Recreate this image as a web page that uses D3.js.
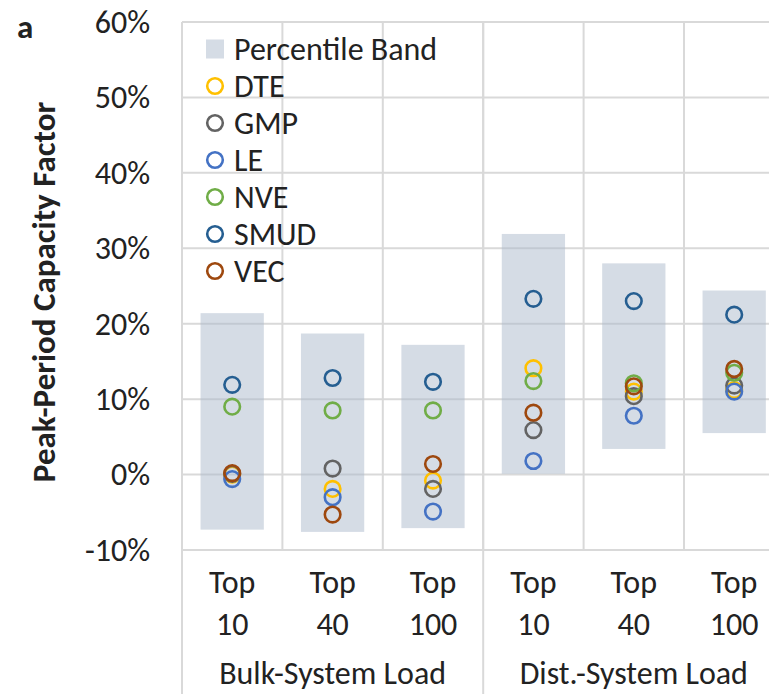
<!DOCTYPE html>
<html>
<head>
<meta charset="utf-8">
<script src="https://cdn.jsdelivr.net/npm/d3@7"></script>
<style>
  html, body { margin: 0; padding: 0; background: #fff; }
  svg { display: block; }
  text { font-family: Carlito, Calibri, Lato, sans-serif; fill: #222; }
</style>
</head>
<body>
<svg id="chart" width="769" height="694"></svg>
<script>
// Category axis: two levels (load type, then top-N hours)
const categories = ["Bulk-Top10", "Bulk-Top40", "Bulk-Top100", "Dist-Top10", "Dist-Top40", "Dist-Top100"];
const catLine1 = ["Top", "Top", "Top", "Top", "Top", "Top"];
const catLine2 = ["10", "40", "100", "10", "40", "100"];
const groups = ["Bulk-System Load", "Dist.-System Load"];
const groupSizes = [3, 3];

// Percentile band (low / high), in percent
const bandLow = [-7.3, -7.6, -7.1, 0.1, 3.4, 5.5];
const bandHigh = [21.4, 18.7, 17.2, 31.9, 28.0, 24.4];

// Utility series, in percent
const seriesNames = ["DTE", "GMP", "LE", "NVE", "SMUD", "VEC"];
const seriesColors = ["#FFC000", "#636363", "#4472C4", "#70AD47", "#255E91", "#9E480E"];
const DTE = [0.0, -1.9, -0.8, 14.1, 11.0, 11.2];
const GMP = [0.1, 0.8, -1.9, 5.9, 10.4, 11.8];
const LE = [-0.6, -3.0, -4.9, 1.8, 7.8, 11.0];
const NVE = [9.0, 8.5, 8.5, 12.4, 12.1, 13.5];
const SMUD = [11.9, 12.8, 12.3, 23.3, 23.0, 21.2];
const VEC = [0.2, -5.3, 1.4, 8.2, 11.7, 14.0];
const seriesValues = [DTE, GMP, LE, NVE, SMUD, VEC];

const yTicks = [-10, 0, 10, 20, 30, 40, 50, 60];

const svg = d3.select("#chart");
const W = 769, H = 694;
const plot = { left: 182, top: 22, bottom: 550, catWidth: 100.4 };
plot.right = plot.left + plot.catWidth * categories.length;

const x = d3.scaleBand().domain(categories).range([plot.left, plot.right]).padding(0);
const y = d3.scaleLinear().domain([-10, 60]).range([plot.bottom, plot.top]);

const gridColor = "#d9d9d9";
const fontSize = 32;

svg.append("rect").attr("width", W).attr("height", H).attr("fill", "#fff");

// Horizontal gridlines
svg.append("g").selectAll("line").data(yTicks).join("line")
  .attr("x1", plot.left).attr("x2", plot.right)
  .attr("y1", d => y(d)).attr("y2", d => y(d))
  .attr("stroke", gridColor).attr("stroke-width", 2);

// Vertical gridlines between categories
svg.append("g").selectAll("line").data(categories.slice(1)).join("line")
  .attr("x1", d => x(d)).attr("x2", d => x(d))
  .attr("y1", plot.top).attr("y2", plot.bottom)
  .attr("stroke", gridColor).attr("stroke-width", 2);

// Axis line and group separators running down through the labels
const groupEdges = [0];
groupSizes.forEach((n, i) => groupEdges.push(groupEdges[i] + n));
svg.append("g").selectAll("line").data(groupEdges.slice(0, -1)).join("line")
  .attr("x1", d => plot.left + d * x.bandwidth()).attr("x2", d => plot.left + d * x.bandwidth())
  .attr("y1", plot.top).attr("y2", H)
  .attr("stroke", gridColor).attr("stroke-width", 2);

// Percentile bands
const bandFrac = 0.63;
svg.append("g").selectAll("rect").data(categories).join("rect")
  .attr("x", d => x(d) + x.bandwidth() * (1 - bandFrac) / 2)
  .attr("width", x.bandwidth() * bandFrac)
  .attr("y", (d, i) => y(bandHigh[i]))
  .attr("height", (d, i) => y(bandLow[i]) - y(bandHigh[i]))
  .attr("fill", "rgb(172,186,204)").attr("fill-opacity", 0.5);

// Utility markers, drawn in series order
seriesNames.forEach((name, s) => {
  svg.append("g").selectAll("circle").data(seriesValues[s]).join("circle")
    .attr("cx", (d, i) => x(categories[i]) + x.bandwidth() / 2)
    .attr("cy", d => y(d))
    .attr("r", 7.8)
    .attr("fill", "none")
    .attr("stroke", seriesColors[s])
    .attr("stroke-width", 2.6);
});

// Y axis tick labels
svg.append("g").selectAll("text").data(yTicks).join("text")
  .attr("x", 150).attr("y", d => y(d)).attr("dy", "0.34em")
  .attr("text-anchor", "end").attr("font-size", fontSize)
  .text(d => d + "%");

// Y axis title
svg.append("text")
  .attr("transform", "translate(55,292) rotate(-90)")
  .attr("text-anchor", "middle").attr("font-size", 33).attr("font-weight", "bold")
  .attr("fill", "#000")
  .text("Peak-Period Capacity Factor");

// Panel letter
svg.append("text").attr("x", 17).attr("y", 38)
  .attr("font-size", 33).attr("font-weight", "bold").attr("fill", "#000")
  .text("a");

// Category labels
const catG = svg.append("g");
catG.selectAll("text.l1").data(categories).join("text").attr("class", "l1")
  .attr("x", d => x(d) + x.bandwidth() / 2).attr("y", 593)
  .attr("text-anchor", "middle").attr("font-size", fontSize)
  .text((d, i) => catLine1[i]);
catG.selectAll("text.l2").data(categories).join("text").attr("class", "l2")
  .attr("x", d => x(d) + x.bandwidth() / 2).attr("y", 635)
  .attr("text-anchor", "middle").attr("font-size", fontSize)
  .text((d, i) => catLine2[i]);
catG.selectAll("text.grp").data(groups).join("text").attr("class", "grp")
  .attr("x", (d, i) => plot.left + (groupEdges[i] + groupSizes[i] / 2) * x.bandwidth())
  .attr("y", 684)
  .attr("text-anchor", "middle").attr("font-size", fontSize)
  .text(d => d);

// Legend
const legend = svg.append("g");
const legendRows = ["Percentile Band"].concat(seriesNames);
const lg = legend.selectAll("g").data(legendRows).join("g")
  .attr("transform", (d, i) => `translate(215,${49 + i * 37})`);
lg.each(function (d, i) {
  const g = d3.select(this);
  if (i === 0) {
    g.append("rect").attr("x", -9).attr("y", -9.5).attr("width", 18).attr("height", 19)
      .attr("fill", "rgb(172,186,204)").attr("fill-opacity", 0.5);
  } else {
    g.append("circle").attr("r", 7.8).attr("fill", "none")
      .attr("stroke", seriesColors[i - 1]).attr("stroke-width", 2.6);
  }
  g.append("text").attr("x", 19).attr("dy", "0.34em").attr("font-size", fontSize).text(d);
});
</script>
</body>
</html>
